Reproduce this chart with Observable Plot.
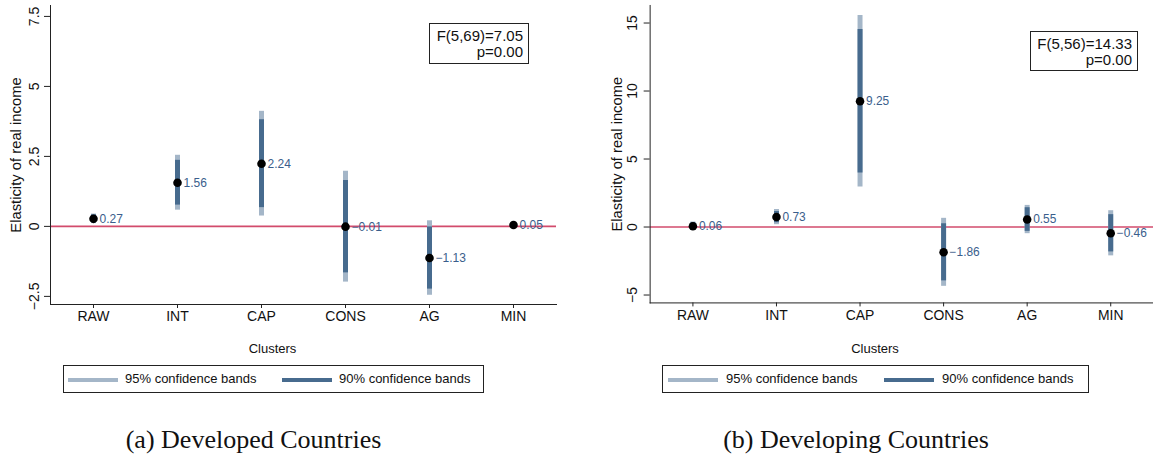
<!DOCTYPE html>
<html>
<head>
<meta charset="utf-8">
<script src="https://cdn.jsdelivr.net/npm/d3@7"></script>
<script src="https://cdn.jsdelivr.net/npm/@observablehq/plot@0.6"></script>
<style>
  html, body { margin: 0; padding: 0; background: #fff; overflow: hidden; }
  #root { position: relative; width: 1153px; height: 459px; font-family: "Liberation Sans", Arial, Helvetica, sans-serif; color: #111; }
  .panel { position: absolute; top: 0; }
  .fbox { position: absolute; border: 1px solid #222; box-sizing: border-box; text-align: right; font-size: 15px; line-height: 16px; padding: 4px 5px 0 0; background: #fff; }
  .xlab { position: absolute; font-size: 13px; transform: translate(-50%, -50%); white-space: nowrap; }
  .legend { position: absolute; border: 1px solid #222; box-sizing: border-box; height: 28px; font-size: 13px; }
  .sw { position: absolute; height: 4px; top: 12px; }
  .lt { position: absolute; top: 5px; white-space: nowrap; }
  .cap { position: absolute; font-family: "Liberation Serif", "Times New Roman", serif; font-size: 26px; transform: translate(-50%, -50%); white-space: nowrap; color: #111; }
</style>
</head>
<body>
<div id="root"></div>
<script>
const cats = ["RAW", "INT", "CAP", "CONS", "AG", "MIN"];

// (a) Developed countries
const devCoef = [0.27, 1.56, 2.24, -0.01, -1.13, 0.05];
const devLo95 = [0.10, 0.58, 0.37, -1.99, -2.46, -0.03];
const devHi95 = [0.44, 2.54, 4.11, 1.97, 0.20, 0.13];
const devLo90 = [0.13, 0.76, 0.67, -1.66, -2.24, -0.02];
const devHi90 = [0.41, 2.36, 3.81, 1.64, -0.02, 0.12];
const devTicks = [-2.5, 0, 2.5, 5, 7.5];
const devDomain = [-2.79, 7.89];
const devF = ["F(5,69)=7.05", "p=0.00"];

// (b) Developing countries
const dvgCoef = [0.06, 0.73, 9.25, -1.86, 0.55, -0.46];
const dvgLo95 = [-0.25, 0.17, 2.95, -4.36, -0.49, -2.12];
const dvgHi95 = [0.37, 1.29, 15.55, 0.64, 1.59, 1.20];
const dvgLo90 = [-0.20, 0.32, 3.98, -3.96, -0.32, -1.83];
const dvgHi90 = [0.32, 1.14, 14.52, 0.24, 1.42, 0.91];
const dvgTicks = [-5, 0, 5, 10, 15];
const dvgDomain = [-5.58, 16.29];
const dvgF = ["F(5,56)=14.33", "p=0.00"];

const yTitle = "Elasticity of real income";
const xTitle = "Clusters";
const legendLabels = ["95% confidence bands", "90% confidence bands"];
const captions = ["(a) Developed Countries", "(b) Developing Countries"];

const C95 = "#a4b6c8";
const C90 = "#476b8e";
const CRED = "#d24b6c";
const CLAB = "#3a5e8c";
const CAX = "#222";

const fmt = v => (v < 0 ? "\u2212" : "") + Math.abs(v).toString();
const fmt2 = v => (v < 0 ? "\u2212" : "") + Math.abs(v).toFixed(2);

function makeRows(coef, lo95, hi95, lo90, hi90) {
  return cats.map((c, i) => ({cat: c, b: coef[i], lo95: lo95[i], hi95: hi95[i], lo90: lo90[i], hi90: hi90[i]}));
}

function panel(rows, ticks, domain, opts) {
  return Plot.plot({
    width: opts.width,
    height: 330,
    marginLeft: opts.marginLeft,
    marginRight: opts.marginRight,
    marginTop: 5,
    marginBottom: 26,
    style: {fontFamily: '"Liberation Sans", Arial, Helvetica, sans-serif', fontSize: "14px", color: "#111", background: "transparent", overflow: "visible"},
    x: {type: "point", domain: cats, padding: 0.5, label: null},
    y: {domain: domain, label: null},
    marks: [
      Plot.ruleY([0], {stroke: CRED, strokeWidth: 1.6}),
      Plot.ruleX(rows, {x: "cat", y1: "lo95", y2: "hi95", stroke: C95, strokeWidth: 5}),
      Plot.ruleX(rows, {x: "cat", y1: "lo90", y2: "hi90", stroke: C90, strokeWidth: 5}),
      Plot.dot(rows, {x: "cat", y: "b", r: 4.3, fill: "#000", stroke: "none"}),
      Plot.text(rows, {x: "cat", y: "b", text: d => fmt2(d.b), dx: 6, textAnchor: "start", fill: CLAB, fontSize: 12}),
      Plot.frame({anchor: "left", stroke: CAX}),
      Plot.frame({anchor: "bottom", stroke: CAX}),
      Plot.axisX({tickSize: 4, tickPadding: 3, fontSize: 14, label: null, stroke: CAX}),
      Plot.axisY({ticks: ticks, tickSize: 6, tickFormat: () => "", label: null, stroke: CAX}),
      Plot.text(ticks, {y: d => d, text: d => fmt(d), frameAnchor: "left", rotate: -90, textAnchor: "middle", dx: opts.tickDx, fontSize: 14, fill: "#111"}),
      Plot.text([yTitle], {frameAnchor: "left", rotate: -90, textAnchor: "middle", dx: opts.titleDx, fontSize: 14.8, fill: "#111"})
    ]
  });
}

const root = document.getElementById("root");

function addPanel(left, width, marginLeft, marginRight, rows, ticks, domain, tickDx, titleDx) {
  const div = document.createElement("div");
  div.className = "panel";
  div.style.left = left + "px";
  div.appendChild(panel(rows, ticks, domain, {width, marginLeft, marginRight, tickDx, titleDx}));
  root.appendChild(div);
}

addPanel(0, 580, 50, 24, makeRows(devCoef, devLo95, devHi95, devLo90, devHi90), devTicks, devDomain, -16, -34);
addPanel(580, 576, 70, 0, makeRows(dvgCoef, dvgLo95, dvgHi95, dvgLo90, dvgHi90), dvgTicks, dvgDomain, -17.5, -33);

function addFBox(left, top, width, height, lines) {
  const d = document.createElement("div");
  d.className = "fbox";
  Object.assign(d.style, {left: left + "px", top: top + "px", width: width + "px", height: height + "px"});
  d.innerHTML = lines.join("<br>");
  root.appendChild(d);
}
addFBox(429, 23, 100, 41, devF);
addFBox(1030, 31, 108, 40, dvgF);

function addXLab(cx, cy) {
  const d = document.createElement("div");
  d.className = "xlab";
  d.style.left = cx + "px"; d.style.top = cy + "px";
  d.textContent = xTitle;
  root.appendChild(d);
}
addXLab(272.5, 348);
addXLab(875, 348);

function addLegend(left, width, sw1, t1, sw2, t2) {
  const d = document.createElement("div");
  d.className = "legend";
  Object.assign(d.style, {left: left + "px", top: "365px", width: width + "px"});
  const items = [[sw1, t1, C95, legendLabels[0]], [sw2, t2, C90, legendLabels[1]]];
  for (const [s, t, c, lab] of items) {
    const sw = document.createElement("div");
    sw.className = "sw";
    Object.assign(sw.style, {left: (s - left - 1) + "px", width: "50px", background: c});
    d.appendChild(sw);
    const tx = document.createElement("div");
    tx.className = "lt";
    tx.style.left = (t - left - 1) + "px";
    tx.textContent = lab;
    d.appendChild(tx);
  }
  root.appendChild(d);
}
addLegend(63, 421, 68, 125, 282, 339);
addLegend(662, 427, 668, 726, 884, 942);

function addCap(cx, cy, text) {
  const d = document.createElement("div");
  d.className = "cap";
  d.style.left = cx + "px"; d.style.top = cy + "px";
  d.textContent = text;
  root.appendChild(d);
}
addCap(253.5, 440, captions[0]);
addCap(856, 440, captions[1]);
</script>
</body>
</html>
